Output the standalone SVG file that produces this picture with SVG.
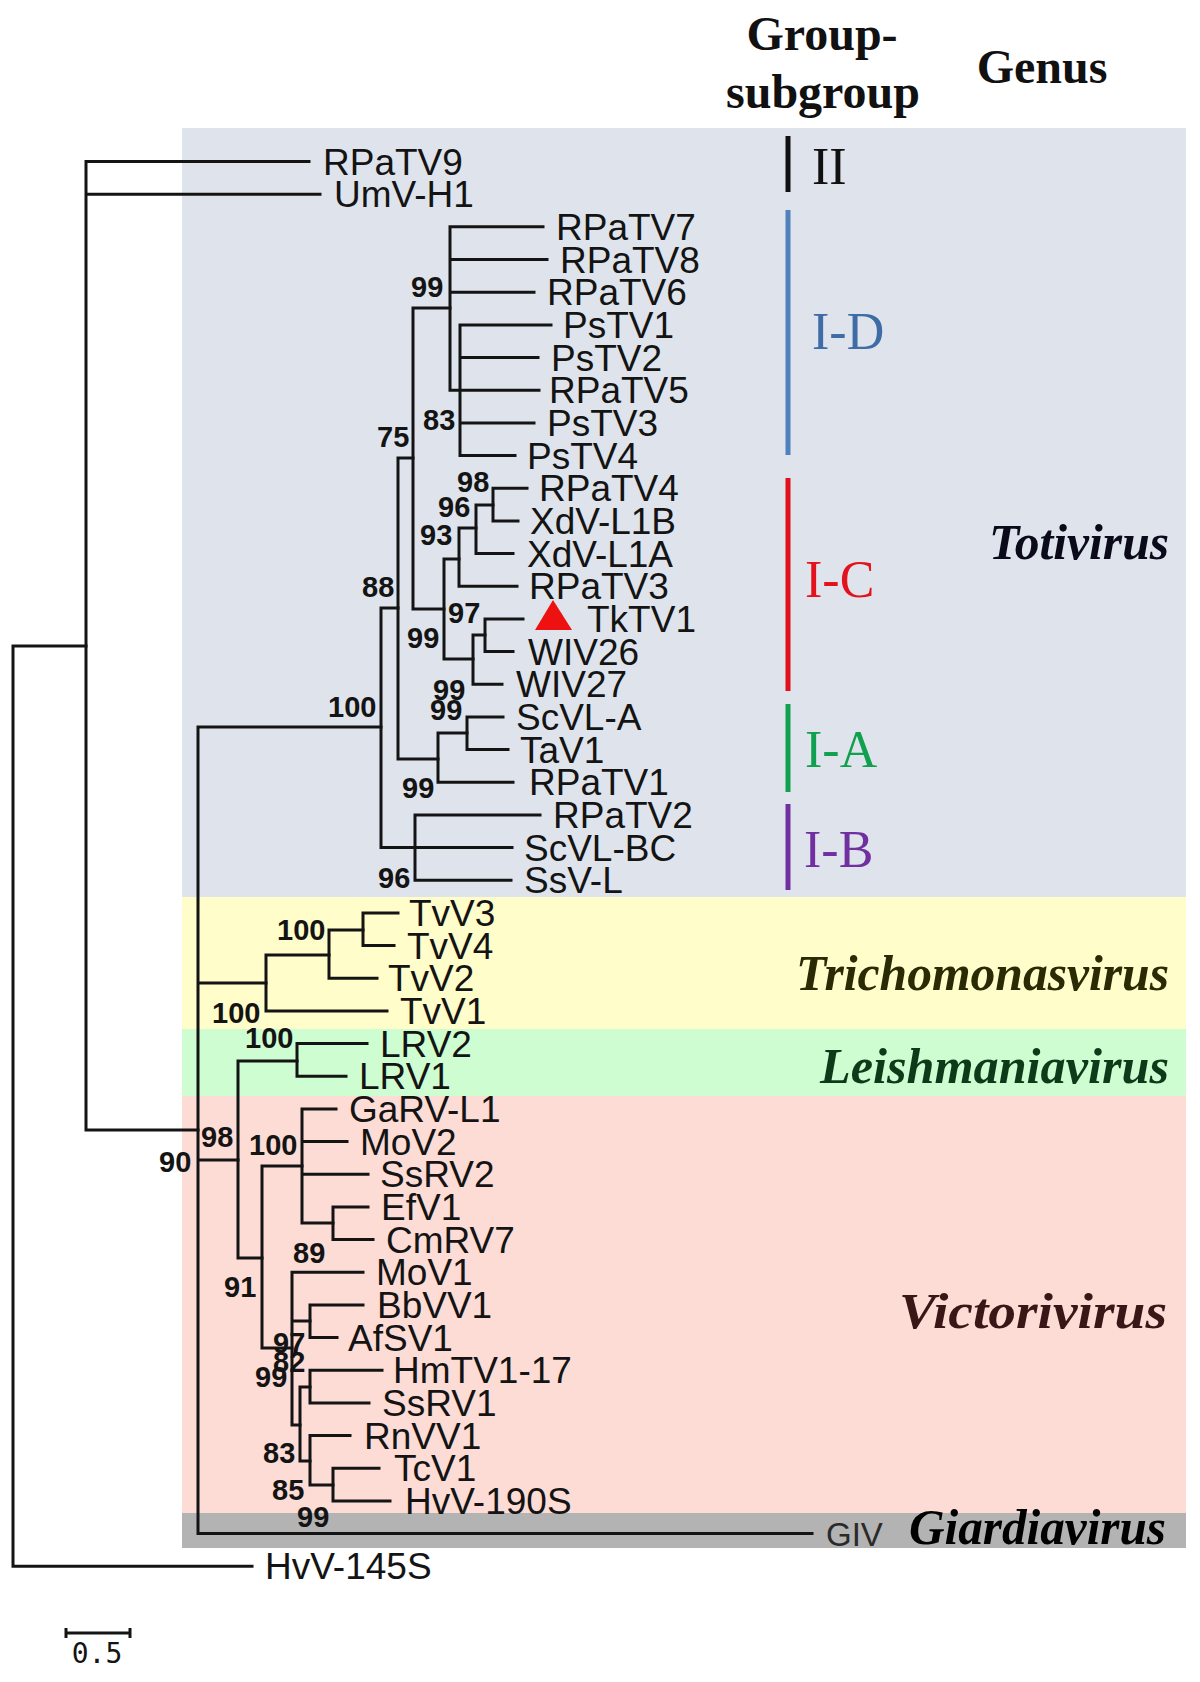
<svg xmlns="http://www.w3.org/2000/svg" width="1200" height="1682" viewBox="0 0 1200 1682">
<style>
.leaf text{font-family:"Liberation Sans",Arial,sans-serif;font-size:37px;fill:#141414}
.bs text{font-family:"Liberation Sans",Arial,sans-serif;font-size:29px;font-weight:bold;fill:#141414}
.br{fill:none;stroke:#141414;stroke-width:3;stroke-linecap:square}
.hdr{font-family:"Liberation Serif","Times New Roman",serif;font-size:48px;font-weight:bold;fill:#111;text-anchor:middle}
.grp{font-family:"Liberation Serif","Times New Roman",serif;font-size:52px}
.genus{font-family:"Liberation Serif","Times New Roman",serif;font-size:50px;font-weight:bold;font-style:italic;text-anchor:end}
.bar{stroke-width:5;fill:none}
</style>
<rect width="1200" height="1682" fill="#ffffff"/>
<g id="bands">
<rect x="182" y="128" width="1004" height="769" fill="#dfe4ec"/>
<rect x="182" y="897" width="1004" height="132" fill="#fffdc9"/>
<rect x="182" y="1029" width="1004" height="67" fill="#cdfdd0"/>
<rect x="182" y="1096" width="1004" height="417" fill="#fddcd6"/>
<rect x="182" y="1513" width="1004" height="35" fill="#b3b3b3"/>
</g>
<g id="header">
<text class="hdr" x="822" y="50">Group-</text>
<text class="hdr" x="823" y="108">subgroup</text>
<text class="hdr" x="1042" y="83">Genus</text>
</g>
<g id="connectors">
<path class="br" d="M13,646V1566.3M13,646H86M13,1566.3H252"/>
<path class="br" d="M86,161.5V1130M86,161.5H309M86,194.2H320M86,1130H198"/>
<path class="br" d="M198,727V1533.6M198,727H381M198,983H266M198,1160H238M198,1533.6H812"/>
<path class="br" d="M381,608V847.6M381,608H398M381,847.6H512"/>
<path class="br" d="M398,458V759M398,458H413M398,759H438"/>
<path class="br" d="M413,308V609M413,308H450M413,609H444"/>
<path class="br" d="M450,226.8V390.2M450,226.8H543M450,259.5H547M450,292.2H534M450,390.2H539"/>
<path class="br" d="M460,324.9V455.5M460,324.9H551M460,357.5H538M460,422.9H534M460,455.5H515"/>
<path class="br" d="M444,559V659M444,559H459M444,659H473"/>
<path class="br" d="M459,528V586.2M459,528H476M459,586.2H517"/>
<path class="br" d="M476,505V553.5M476,505H493M476,553.5H513"/>
<path class="br" d="M493,488.2V520.9M493,488.2H527M493,520.9H518"/>
<path class="br" d="M473,635V684.2M473,635H485M473,684.2H502"/>
<path class="br" d="M485,618.9V651.6M485,618.9H523M485,651.6H513"/>
<path class="br" d="M438,733V782.2M438,733H467M438,782.2H513"/>
<path class="br" d="M467,716.9V749.6M467,716.9H503M467,749.6H508"/>
<path class="br" d="M415,814.9V880.2M415,814.9H540M415,880.2H511"/>
<path class="br" d="M266,955V1010.9M266,955H329M266,1010.9H387"/>
<path class="br" d="M329,930V978.3M329,930H363M329,978.3H377"/>
<path class="br" d="M363,912.9V945.6M363,912.9H398M363,945.6H394"/>
<path class="br" d="M238,1061V1258M238,1061H297M238,1258H262"/>
<path class="br" d="M297,1043.6V1076.3M297,1043.6H367M297,1076.3H346"/>
<path class="br" d="M262,1166V1348M262,1166H302M262,1348H292"/>
<path class="br" d="M302,1108.9V1223M302,1108.9H336M302,1141.6H347M302,1174.3H368M302,1223H333"/>
<path class="br" d="M333,1206.9V1239.6M333,1206.9H368M333,1239.6H373"/>
<path class="br" d="M292,1272.3V1425M292,1272.3H363M292,1321H310M292,1425H300"/>
<path class="br" d="M310,1304.9V1337.6M310,1304.9H363M310,1337.6H337"/>
<path class="br" d="M300,1387V1461M300,1387H310M300,1461H310"/>
<path class="br" d="M310,1370.3V1403M310,1370.3H382M310,1403H369"/>
<path class="br" d="M310,1435.6V1485M310,1435.6H350M310,1485H333"/>
<path class="br" d="M333,1468.3V1501M333,1468.3H379M333,1501H390"/>
</g>
<g class="leaf">
<g id="n-RPaTV9"><text x="323" y="174.5">RPaTV9</text></g>
<g id="n-UmV-H1"><text x="334" y="207.2">UmV-H1</text></g>
<g id="n-RPaTV7"><text x="556" y="239.8">RPaTV7</text></g>
<g id="n-RPaTV8"><text x="560" y="272.5">RPaTV8</text></g>
<g id="n-RPaTV6"><text x="547" y="305.2">RPaTV6</text></g>
<g id="n-PsTV1"><text x="563" y="337.9">PsTV1</text></g>
<g id="n-PsTV2"><text x="551" y="370.5">PsTV2</text></g>
<g id="n-RPaTV5"><text x="549" y="403.2">RPaTV5</text></g>
<g id="n-PsTV3"><text x="547" y="435.9">PsTV3</text></g>
<g id="n-PsTV4"><text x="527" y="468.5">PsTV4</text></g>
<g id="n-RPaTV4"><text x="539" y="501.2">RPaTV4</text></g>
<g id="n-XdV-L1B"><text x="530" y="533.9">XdV-L1B</text></g>
<g id="n-XdV-L1A"><text x="527" y="566.5">XdV-L1A</text></g>
<g id="n-RPaTV3"><text x="529" y="599.2">RPaTV3</text></g>
<g id="n-TkTV1"><text x="587" y="631.9">TkTV1</text></g>
<g id="n-WIV26"><text x="528" y="664.6">WIV26</text></g>
<g id="n-WIV27"><text x="516" y="697.2">WIV27</text></g>
<g id="n-ScVL-A"><text x="516" y="729.9">ScVL-A</text></g>
<g id="n-TaV1"><text x="520" y="762.6">TaV1</text></g>
<g id="n-RPaTV1"><text x="529" y="795.2">RPaTV1</text></g>
<g id="n-RPaTV2"><text x="553" y="827.9">RPaTV2</text></g>
<g id="n-ScVL-BC"><text x="524" y="860.6">ScVL-BC</text></g>
<g id="n-SsV-L"><text x="524" y="893.2">SsV-L</text></g>
<g id="n-TvV3"><text x="409" y="925.9">TvV3</text></g>
<g id="n-TvV4"><text x="407" y="958.6">TvV4</text></g>
<g id="n-TvV2"><text x="388" y="991.3">TvV2</text></g>
<g id="n-TvV1"><text x="400" y="1023.9">TvV1</text></g>
<g id="n-LRV2"><text x="380" y="1056.6">LRV2</text></g>
<g id="n-LRV1"><text x="359" y="1089.3">LRV1</text></g>
<g id="n-GaRV-L1"><text x="349" y="1121.9">GaRV-L1</text></g>
<g id="n-MoV2"><text x="360" y="1154.6">MoV2</text></g>
<g id="n-SsRV2"><text x="380" y="1187.3">SsRV2</text></g>
<g id="n-EfV1"><text x="381" y="1219.9">EfV1</text></g>
<g id="n-CmRV7"><text x="386" y="1252.6">CmRV7</text></g>
<g id="n-MoV1"><text x="376" y="1285.3">MoV1</text></g>
<g id="n-BbVV1"><text x="377" y="1317.9">BbVV1</text></g>
<g id="n-AfSV1"><text x="348" y="1350.6">AfSV1</text></g>
<g id="n-HmTV1-17"><text x="393" y="1383.3">HmTV1-17</text></g>
<g id="n-SsRV1"><text x="382" y="1416">SsRV1</text></g>
<g id="n-RnVV1"><text x="364" y="1448.6">RnVV1</text></g>
<g id="n-TcV1"><text x="394" y="1481.3">TcV1</text></g>
<g id="n-HvV-190S"><text x="405" y="1514">HvV-190S</text></g>
<g id="n-HvV-145S"><text x="265" y="1579.3">HvV-145S</text></g>
</g>
<g id="n-GIV"><text x="826" y="1545.5" font-family="Liberation Sans, Arial, sans-serif" font-size="33" fill="#2a2a2a">GIV</text></g>
<g id="marker-TkTV1"><polygon points="553,600 535,630 572,630" fill="#ee1111"/></g>
<g class="bs">
<text x="411" y="297">99</text>
<text x="423" y="430">83</text>
<text x="377" y="447">75</text>
<text x="457" y="492">98</text>
<text x="438" y="517">96</text>
<text x="420" y="545">93</text>
<text x="362" y="597">88</text>
<text x="448" y="623">97</text>
<text x="407" y="648">99</text>
<text x="433" y="700">99</text>
<text x="430" y="720">99</text>
<text x="328" y="717">100</text>
<text x="402" y="798">99</text>
<text x="378" y="888">96</text>
<text x="277" y="940">100</text>
<text x="212" y="1023">100</text>
<text x="245" y="1048">100</text>
<text x="201" y="1147">98</text>
<text x="159" y="1172">90</text>
<text x="249" y="1155">100</text>
<text x="293" y="1263">89</text>
<text x="224" y="1297">91</text>
<text x="273" y="1353">97</text>
<text x="273" y="1372">82</text>
<text x="255" y="1387">99</text>
<text x="263" y="1463">83</text>
<text x="272" y="1500">85</text>
<text x="297" y="1527">99</text>
</g>
<g id="groups">
<line class="bar" x1="788" y1="136" x2="788" y2="192" stroke="#111"/>
<text class="grp" x="812" y="184" fill="#111">II</text>
<line class="bar" x1="788" y1="210" x2="788" y2="455" stroke="#4f81bd"/>
<text class="grp" x="812" y="349" fill="#3e6ca6">I-D</text>
<line class="bar" x1="788" y1="478" x2="788" y2="691" stroke="#e0101c"/>
<text class="grp" x="805" y="597" fill="#e3121c">I-C</text>
<line class="bar" x1="788" y1="704" x2="788" y2="792" stroke="#10a050"/>
<text class="grp" x="805" y="767" fill="#11a04f">I-A</text>
<line class="bar" x1="788" y1="804" x2="788" y2="890" stroke="#7030a0"/>
<text class="grp" x="804" y="867" fill="#7030a0">I-B</text>
</g>
<g id="genera">
<text class="genus" x="1169" y="559" fill="#0a0a1a" textLength="180" lengthAdjust="spacingAndGlyphs">Totivirus</text>
<text class="genus" x="1169" y="990" fill="#2a2a05" textLength="373" lengthAdjust="spacingAndGlyphs">Trichomonasvirus</text>
<text class="genus" x="1169" y="1083" fill="#0c3b1a" textLength="349" lengthAdjust="spacingAndGlyphs">Leishmaniavirus</text>
<text class="genus" x="1167" y="1328" fill="#3b1616" textLength="268" lengthAdjust="spacingAndGlyphs">Victorivirus</text>
<text class="genus" x="1166" y="1544" fill="#000" textLength="257" lengthAdjust="spacingAndGlyphs">Giardiavirus</text>
</g>
<g id="scale">
<path class="br" d="M66,1633H130M66,1628V1638M130,1628V1638" style="stroke-linecap:butt"/>
<text x="97" y="1663" font-family="DejaVu Sans Mono, monospace" font-size="28" text-anchor="middle" fill="#141414">0.5</text>
</g>
</svg>
